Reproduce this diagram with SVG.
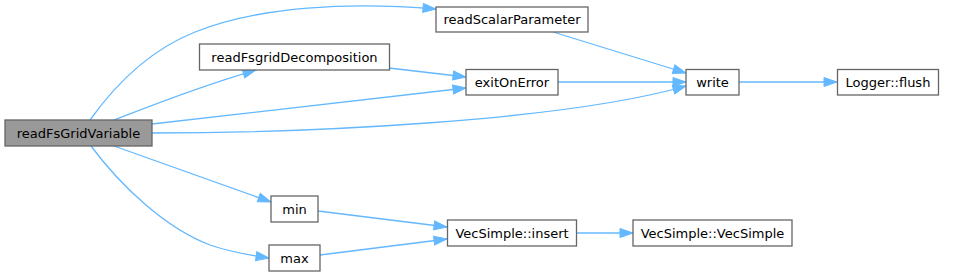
<svg xmlns="http://www.w3.org/2000/svg" width="969" height="276" viewBox="0 0 969 276">
<style>
.node rect{fill:#ffffff;stroke:#666666;stroke-width:1.3}
.node.root rect{fill:#999999}
.node text{font-family:"DejaVu Sans",sans-serif;font-size:13px;fill:#000000;text-anchor:middle}
.edges path{fill:none;stroke:#63b8ff;stroke-width:1.3;marker-end:url(#arrow)}
</style>
<defs>
<marker id="arrow" markerUnits="userSpaceOnUse" markerWidth="15" markerHeight="11" viewBox="0 0 15 11" refX="14" refY="5.5" orient="auto">
<path d="M1,1 L14,5.5 L1,10 z" fill="#63b8ff" stroke="#63b8ff" stroke-width="1"/>
</marker>
</defs>
<rect width="969" height="276" fill="#ffffff"/>
<g class="edges">
<path d="M90,120 C115,85 150,50 195,32 C260,6 350,2 436,9"/>
<path d="M114,120 C150,106 200,86 256,70"/>
<path d="M152,124 L466,88"/>
<path d="M152,133 C300,133 560,122 686,86"/>
<path d="M389,68 L466,77"/>
<path d="M553,32 L686,73"/>
<path d="M558,82 L686,82"/>
<path d="M739,82 L837,82"/>
<path d="M114,146 L271,202"/>
<path d="M91,146 C120,185 165,228 210,245 C230,252 248,255 269,258"/>
<path d="M318,211 L447,227"/>
<path d="M320,255 L447,239"/>
<path d="M576,233 L633,233"/>
</g>
<g id="node-readFsGridVariable" class="node root"><rect x="5" y="120" width="147" height="26"/><text x="78.5" y="137.5">readFsGridVariable</text></g>
<g id="node-readScalarParameter" class="node"><rect x="436" y="7" width="152" height="25"/><text x="512" y="24">readScalarParameter</text></g>
<g id="node-readFsgridDecomposition" class="node"><rect x="199.5" y="44" width="190" height="26"/><text x="294.5" y="61.5">readFsgridDecomposition</text></g>
<g id="node-exitOnError" class="node"><rect x="466" y="69.5" width="92" height="25.5"/><text x="512" y="87">exitOnError</text></g>
<g id="node-write" class="node"><rect x="686" y="69.5" width="53" height="25.5"/><text x="712.5" y="87">write</text></g>
<g id="node-Logger-flush" class="node"><rect x="837.5" y="69.5" width="101" height="25.5"/><text x="888" y="87">Logger::flush</text></g>
<g id="node-min" class="node"><rect x="271" y="196" width="47" height="26"/><text x="294.5" y="213.5">min</text></g>
<g id="node-max" class="node"><rect x="269" y="245" width="51" height="26"/><text x="294.5" y="262.5">max</text></g>
<g id="node-VecSimple-insert" class="node"><rect x="447.5" y="220" width="129" height="26"/><text x="512" y="237.5">VecSimple::insert</text></g>
<g id="node-VecSimple-VecSimple" class="node"><rect x="633" y="220" width="159" height="26"/><text x="712.5" y="237.5">VecSimple::VecSimple</text></g>
</svg>
